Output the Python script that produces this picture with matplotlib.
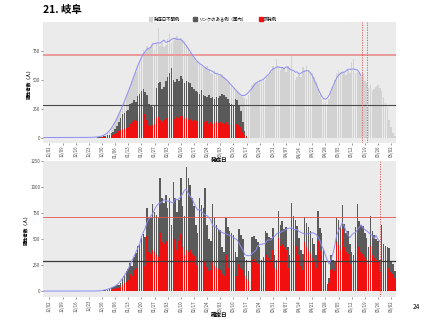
import numpy as np
import pandas as pd
import matplotlib
matplotlib.use("Agg")
import matplotlib.pyplot as plt
from matplotlib.patches import Patch

plt.rcParams['font.family'] = ['Noto Sans CJK JP', 'DejaVu Sans']

# day index: 0 = 12/02 ; data from 11/29 (-3) to 06/04 (184)
days = np.arange(-3, 185)

tick_days = np.arange(0, 183, 7)
tick_labels = ["12/02", "12/09", "12/16", "12/23", "12/30", "01/06", "01/13", "01/20",
               "01/27", "02/03", "02/10", "02/17", "02/24", "03/03", "03/10", "03/17",
               "03/24", "03/31", "04/07", "04/14", "04/21", "04/28", "05/05", "05/12",
               "05/19", "05/26", "06/02"]

# ---- top panel (onset date) ----
onset_total = ([0] * 23 +
    [1, 0, 2, 1, 2, 3] +
    [4, 6, 10, 15, 22, 35, 50, 70, 95, 130,
     165, 200, 240, 270, 310, 350, 390, 440, 490, 530,
     570, 620, 660, 700, 760, 740, 790, 770, 780, 800,
     760, 820, 951, 790, 820, 780, 800, 850, 900, 820,
     830, 860, 880, 850, 860, 840, 830, 800, 770, 730,
     720, 690, 660, 650, 640, 620, 610, 600, 620, 580,
     560, 550, 580, 560, 540, 530, 550, 520, 510, 480,
     480, 450, 430, 410, 400, 380, 360, 350, 340, 330,
     370, 420, 450, 470, 480, 470, 500, 490, 510, 500,
     520, 540, 570, 620, 600, 680, 610, 580, 600, 590,
     570, 620, 590, 721, 560, 500, 520, 540, 520, 610,
     580, 620, 580, 570, 560, 520, 480, 420, 370, 330,
     300, 310, 290, 330, 390, 440, 500, 560, 580, 570,
     560, 560, 540, 580, 560, 650, 680, 560, 570, 560,
     520, 560, 490, 470, 430, 450, 400, 420, 440, 450] +
    [430, 400, 350, 300, 260, 150, 90, 40, 10])

onset_linked = ([0] * 29 +
    [2, 4, 6, 10, 14, 18, 25, 35, 50, 70,
     100, 130, 170, 200, 215, 230, 240, 290, 300, 320,
     310, 360, 380, 400, 420, 390, 370, 290, 270, 260,
     280, 430, 470, 480, 420, 440, 490, 520, 560, 597,
     500, 480, 510, 490, 530, 510, 470, 490, 480, 470,
     440, 420, 400, 390, 380, 410, 370, 360, 350, 370,
     340, 350, 330, 350, 340, 360, 380, 370, 350, 330,
     300, 290, 280, 330, 320, 280, 230, 130, 60, 10] +
    [0] * 79)

onset_sporadic = ([0] * 31 +
    [3, 5, 7, 9, 12, 15, 20, 30,
     40, 55, 65, 70, 75, 80, 90, 120, 130, 150,
     140, 190, 210, 225, 233, 200, 150, 110, 100, 110,
     120, 170, 180, 150, 130, 150, 170, 200, 233, 210,
     170, 160, 180, 170, 190, 185, 160, 170, 150, 160,
     140, 150, 140, 150, 130, 150, 120, 130, 140, 120,
     130, 120, 125, 130, 125, 130, 125, 120, 130, 110,
     120, 115, 105, 125, 120, 110, 90, 50, 25, 5] +
    [0] * 79)

# ---- bottom panel (confirmation date) ----
confirmed_total = ([0] * 23 +
    [1, 0, 0, 1, 1, 0, 2, 3, 4, 6,
     8, 15, 25, 30, 40, 45, 60, 55, 80, 120,
     150, 190, 210, 270, 240, 330, 370, 435, 450, 510,
     545, 520, 800, 700, 700, 840, 760, 730, 700, 1090,
     900, 850, 920, 800, 900, 640, 1050, 900, 760, 880,
     1090, 820, 720, 1195, 1090, 1020, 900, 820, 640, 560,
     900, 830, 800, 990, 640, 500, 480, 840, 700, 640,
     600, 590, 420, 380, 700, 620, 580, 560, 540, 380,
     330, 600, 540, 500, 330, 300, 190, 15, 520, 530,
     500, 470, 420, 300, 330, 580, 560, 520, 510, 610,
     350, 300, 770, 640, 670, 600, 620, 420, 350, 845,
     720, 680, 625, 510, 400, 360, 715, 660, 620, 580,
     510, 450, 350, 770, 610, 560, 400, 290, 64, 130,
     350, 300, 290, 700, 680, 620, 825, 650, 560, 580,
     450, 380, 350, 620, 842, 670, 640, 625, 560, 510,
     420, 720, 580, 540, 500, 480, 300, 632, 450, 430] +
    [420, 410, 290, 260, 190])

confirmed_sporadic = ([0] * 29 +
    [1, 0, 2, 3] +
    [4, 8, 12, 15, 20, 22, 30, 28, 40, 60,
     75, 90, 110, 160, 150, 200, 225, 250, 270, 300,
     290, 240, 530, 380, 360, 400, 380, 350, 330, 560,
     470, 450, 480, 420, 480, 300, 590, 500, 400, 480,
     545, 420, 350, 400, 380, 400, 360, 340, 250, 220,
     350, 300, 280, 290, 230, 190, 200, 290, 240, 220,
     210, 200, 160, 150, 347, 220, 230, 250, 220, 160,
     150, 260, 220, 200, 150, 120, 100, 5, 300, 310,
     280, 260, 200, 150, 160, 380, 350, 320, 300, 400,
     220, 200, 510, 430, 450, 420, 400, 220, 190, 680,
     500, 480, 430, 350, 240, 200, 470, 420, 390, 360,
     320, 290, 220, 480, 385, 360, 290, 190, 30, 80,
     200, 210, 190, 475, 440, 400, 600, 420, 380, 360,
     260, 220, 200, 380, 500, 420, 380, 360, 330, 300,
     260, 435, 350, 320, 300, 280, 180, 360, 280, 260] +
    [250, 220, 180, 160, 130])

red_level = 715
black_level = 285
top_avg_end = 166
bottom_avg_end = 176
top_red_vline = 166.3
top_gray_vline = 169.1
bottom_red_vline = 176.3

C_LIGHT = '#d2d2d2'
C_DARK = '#5a5a5a'
C_RED = '#f01010'
C_BLUE = '#8c8cf2'
BG = '#ebebeb'

fig = plt.figure(figsize=(4.27, 3.2), dpi=100)
ax2 = fig.add_axes([43/427, 1-297.3/320, 353/427, 136.6/320])
ax1 = fig.add_axes([43/427, 1-143/320, 353/427, 121/320])

W = 0.8
ax1.bar(days, onset_total, width=W, color=C_LIGHT, linewidth=0)
ax1.bar(days, onset_linked, width=W, color=C_DARK, linewidth=0)
ax1.bar(days, onset_sporadic, width=W, color=C_RED, linewidth=0)
avg1 = pd.Series(onset_total, dtype=float).rolling(7, center=True, min_periods=1).mean()
avg1[days > top_avg_end] = np.nan
ax1.axhline(red_level, color='#e89a9a', lw=1.4, zorder=3)
ax1.axhline(black_level, color='#4a4a4a', lw=0.8, zorder=3)
ax1.plot(days, avg1, color=C_BLUE, lw=0.7, zorder=4)
ax1.axvline(top_red_vline, color='#e05050', lw=0.6, ls=(0, (1.5, 1.5)), zorder=4)
ax1.axvline(top_gray_vline, color='#777777', lw=0.6, ls=(0, (1.5, 1.5)), zorder=4)
m1 = max(onset_total)
ax1.set_ylim(-0.05 * m1, 1.05 * m1)
ax1.set_yticks([0, 250, 500, 750])

ax2.bar(days, confirmed_total, width=W, color=C_DARK, linewidth=0)
ax2.bar(days, confirmed_sporadic, width=W, color=C_RED, linewidth=0)
avg2 = pd.Series(confirmed_total, dtype=float).rolling(7, center=True, min_periods=1).mean()
avg2[days > bottom_avg_end] = np.nan
ax2.axhline(red_level, color='#e85050', lw=0.6, zorder=3)
ax2.axhline(black_level, color='#3a3a3a', lw=0.9, zorder=3)
ax2.plot(days, avg2, color=C_BLUE, lw=0.7, zorder=4)
ax2.axvline(bottom_red_vline, color='#e05050', lw=0.6, ls=(0, (1.5, 1.5)), zorder=4)
m2 = max(confirmed_total)
ax2.set_ylim(-0.05 * m2, 1.05 * m2)
ax2.set_yticks([0, 250, 500, 750, 1000, 1250])

for ax, xl in ((ax1, '発症日'), (ax2, '確定日')):
    ax.set_facecolor(BG)
    ax.set_xlim(-3.4, 184.6)
    ax.set_xticks(tick_days)
    ax.set_xticklabels(tick_labels, rotation=90)
    ax.tick_params(axis='both', labelsize=3.2, colors='#4d4d4d', length=1.2, width=0.4, pad=0.8)
    for s in ax.spines.values():
        s.set_visible(False)
    ax.set_xlabel(xl, fontsize=4.0, fontweight='bold', labelpad=0.3)
    ax.set_ylabel('陽性者数（人）', fontsize=3.3, fontweight='bold', labelpad=1.5)

fig.text(43/427, 1-10/320, '21. 岐阜', fontsize=7.5, fontweight='bold', va='center', ha='left')
fig.text(416/427, 1-307/320, '24', fontsize=4.7, va='center', ha='center')

handles = [Patch(color=C_LIGHT), Patch(color=C_DARK), Patch(color=C_RED)]
labels = ['発症日不明例', 'リンクのある例（国内）', '孤発例']
fig.legend(handles, labels, ncol=3, loc='center', bbox_to_anchor=(213/427, 1-19/320),
           frameon=False, fontsize=3.2, handlelength=0.8, handleheight=0.8,
           handletextpad=0.3, columnspacing=3.0, borderpad=0)

fig.savefig('out.png', dpi=100)
